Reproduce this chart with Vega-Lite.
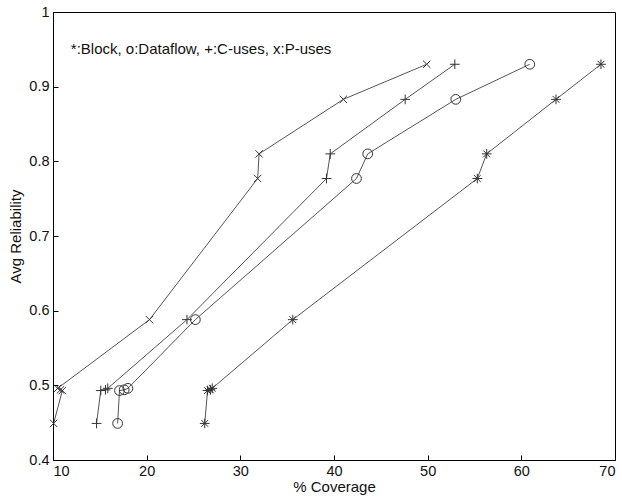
{
  "$schema": "https://vega.github.io/schema/vega-lite/v6.json",
  "width": 562,
  "height": 448,
  "autosize": {"type": "none"},
  "padding": {"left": 53, "top": 12, "right": 7, "bottom": 37},
  "background": "white",
  "config": {
    "view": {"stroke": "black", "strokeWidth": 1},
    "font": "Liberation Sans",
    "axis": {
      "domainColor": "black", "tickColor": "black", "grid": false,
      "labelFont": "Liberation Sans", "labelFontSize": 14.5, "labelColor": "#111111",
      "titleFont": "Liberation Sans", "titleFontSize": 15, "titleFontWeight": "normal", "titleColor": "#111111",
      "tickSize": -5
    }
  },
  "datasets": {
    "curves": [
      {"s": "P-uses", "i": 0, "x": 10.07, "y": 0.449},
      {"s": "P-uses", "i": 1, "x": 11.0, "y": 0.493},
      {"s": "P-uses", "i": 2, "x": 10.8, "y": 0.494},
      {"s": "P-uses", "i": 3, "x": 10.5, "y": 0.496},
      {"s": "P-uses", "i": 4, "x": 20.3, "y": 0.588},
      {"s": "P-uses", "i": 5, "x": 31.85, "y": 0.777},
      {"s": "P-uses", "i": 6, "x": 32.0, "y": 0.81},
      {"s": "P-uses", "i": 7, "x": 41.0, "y": 0.883},
      {"s": "P-uses", "i": 8, "x": 49.9, "y": 0.93},
      {"s": "C-uses", "i": 0, "x": 14.65, "y": 0.449},
      {"s": "C-uses", "i": 1, "x": 15.1, "y": 0.493},
      {"s": "C-uses", "i": 2, "x": 15.6, "y": 0.494},
      {"s": "C-uses", "i": 3, "x": 15.85, "y": 0.496},
      {"s": "C-uses", "i": 4, "x": 24.3, "y": 0.588},
      {"s": "C-uses", "i": 5, "x": 39.2, "y": 0.777},
      {"s": "C-uses", "i": 6, "x": 39.6, "y": 0.81},
      {"s": "C-uses", "i": 7, "x": 47.6, "y": 0.883},
      {"s": "C-uses", "i": 8, "x": 52.9, "y": 0.93},
      {"s": "Dataflow", "i": 0, "x": 16.9, "y": 0.449},
      {"s": "Dataflow", "i": 1, "x": 17.1, "y": 0.493},
      {"s": "Dataflow", "i": 2, "x": 17.6, "y": 0.494},
      {"s": "Dataflow", "i": 3, "x": 18.0, "y": 0.496},
      {"s": "Dataflow", "i": 4, "x": 25.2, "y": 0.588},
      {"s": "Dataflow", "i": 5, "x": 42.4, "y": 0.777},
      {"s": "Dataflow", "i": 6, "x": 43.6, "y": 0.81},
      {"s": "Dataflow", "i": 7, "x": 53.0, "y": 0.883},
      {"s": "Dataflow", "i": 8, "x": 60.9, "y": 0.93},
      {"s": "Block", "i": 0, "x": 26.2, "y": 0.449},
      {"s": "Block", "i": 1, "x": 26.5, "y": 0.493},
      {"s": "Block", "i": 2, "x": 26.8, "y": 0.494},
      {"s": "Block", "i": 3, "x": 27.0, "y": 0.496},
      {"s": "Block", "i": 4, "x": 35.6, "y": 0.588},
      {"s": "Block", "i": 5, "x": 55.3, "y": 0.777},
      {"s": "Block", "i": 6, "x": 56.3, "y": 0.81},
      {"s": "Block", "i": 7, "x": 63.7, "y": 0.883},
      {"s": "Block", "i": 8, "x": 68.5, "y": 0.93}
    ],
    "note": [{"label": "*:Block, o:Dataflow, +:C-uses, x:P-uses", "x": 11.9, "y": 0.95}]
  },
  "layer": [
    {
      "data": {"name": "curves"},
      "mark": {"type": "line", "stroke": "#555555", "strokeWidth": 1},
      "encoding": {
        "x": {"field": "x", "type": "quantitative", "scale": {"domain": [10, 70], "nice": false, "zero": false},
              "axis": {"title": "% Coverage", "values": [10,20,30,40,50,60,70], "labelPadding": 9, "titlePadding": 2}},
        "y": {"field": "y", "type": "quantitative", "scale": {"domain": [0.4, 1], "nice": false, "zero": false},
              "axis": {"title": "Avg Reliability", "values": [0.4,0.5,0.6,0.7,0.8,0.9,1], "format": ".1~f", "labelPadding": 9, "titlePadding": 5}},
        "detail": {"field": "s"},
        "order": {"field": "i"}
      }
    },
    {
      "data": {"name": "curves"},
      "mark": {"type": "point", "filled": false, "strokeWidth": 1, "stroke": "#333333", "opacity": 1},
      "encoding": {
        "x": {"field": "x", "type": "quantitative"},
        "y": {"field": "y", "type": "quantitative"},
        "shape": {"field": "s", "type": "nominal", "legend": null,
          "scale": {"domain": ["Block", "Dataflow", "C-uses", "P-uses"],
                    "range": ["M-1,0L1,0M0,-1L0,1M-0.7,-0.7L0.7,0.7M-0.7,0.7L0.7,-0.7", "circle", "M-1,0L1,0M0,-1L0,1", "M-0.75,-0.75L0.75,0.75M-0.75,0.75L0.75,-0.75"]}},
        "size": {"value": 95}
      }
    },
    {
      "data": {"name": "note"},
      "mark": {"type": "text", "align": "left", "baseline": "middle", "fontSize": 15, "font": "Liberation Sans", "fill": "#111111"},
      "encoding": {
        "x": {"field": "x", "type": "quantitative"},
        "y": {"field": "y", "type": "quantitative"},
        "text": {"field": "label"}
      }
    }
  ]
}
